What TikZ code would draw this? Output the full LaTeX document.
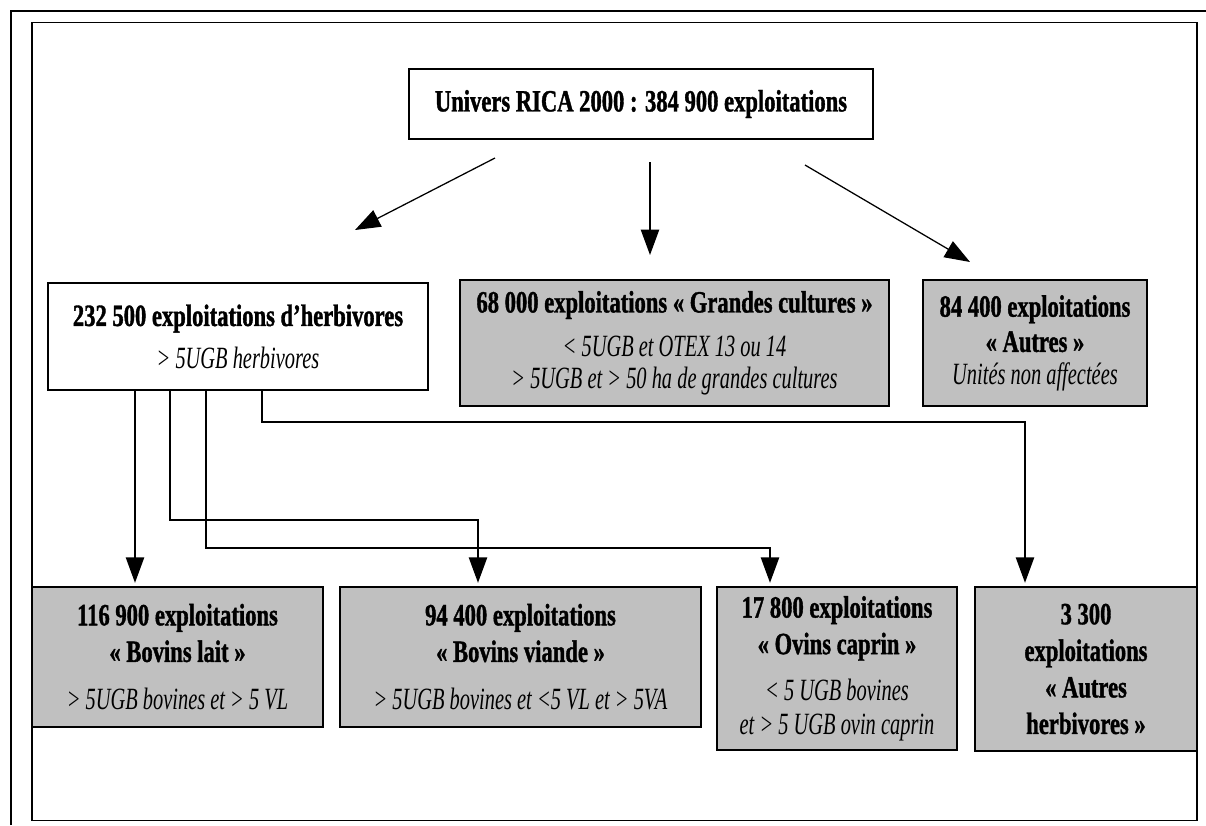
\documentclass[tikz,border=0pt]{standalone}
\usepackage{fontspec}
\setmainfont{Liberation Serif}[BoldFeatures={FakeStretch=0.73,FakeBold=1.2},ItalicFeatures={FakeStretch=0.66}]
\usepackage{tikz}
\usetikzlibrary{arrows.meta}

\definecolor{gris}{RGB}{192,192,192}
\tikzset{
  boite/.style={draw, line width=1pt, fill=white, inner sep=0pt, align=center},
  grise/.style={boite, fill=gris},
  fleche/.style={line width=0.9pt, -{Triangle[length=18pt,width=13pt]}},
}

\begin{document}
\begin{tikzpicture}[x=0.025cm,y=-0.025cm,font=\fontsize{22}{26}\selectfont]
  \useasboundingbox (0,0) rectangle (1206,825);
  % cadres
  \draw[line width=1.4pt] (11,825) -- (11,11) -- (1206,11);
  \draw[line width=1.2pt] (32,22.5) rectangle (1197,820.5);

  % niveau 1
  \node[boite, minimum width=11.6cm, minimum height=1.75cm] (univers) at (641,104)
    {\textbf{Univers RICA 2000 : 384 900 exploitations}};

  % niveau 2
  \node[boite, minimum width=9.5cm, minimum height=2.675cm] (herb) at (238,336.5)
    {\textbf{232 500 exploitations d’herbivores}\\[4pt]
     \textit{> 5UGB herbivores}};
  \node[grise, minimum width=10.725cm, minimum height=3.15cm] (gc) at (674.5,343)
    {\textbf{68 000 exploitations «~Grandes cultures~»}\\[5pt]
     \textit{< 5UGB et OTEX 13 ou 14}\\[-3pt]
     \textit{> 5UGB et > 50 ha de grandes cultures}};
  \node[grise, minimum width=5.6cm, minimum height=3.15cm] (autres) at (1035,343)
    {\textbf{84 400 exploitations}\\[-1pt]
     \textbf{«~Autres~»}\\[-3pt]
     \textit{Unités non affectées}};

  % niveau 3
  \node[grise, minimum width=7.275cm, minimum height=3.5cm] (lait) at (177.5,657)
    {\textbf{116 900 exploitations}\\
     \textbf{«~Bovins lait~»}\\[8pt]
     \textit{> 5UGB bovines et > 5 VL}};
  \node[grise, minimum width=9.025cm, minimum height=3.5cm] (viande) at (520.5,657)
    {\textbf{94 400 exploitations}\\
     \textbf{«~Bovins viande~»}\\[8pt]
     \textit{> 5UGB bovines et <5 VL et > 5VA}};
  \node[grise, minimum width=6cm, minimum height=4.075cm] (ovins) at (837,668.5)
    {\textbf{17 800 exploitations}\\
     \textbf{«~Ovins caprin~»}\\[7pt]
     \textit{< 5 UGB bovines}\\[-2pt]
     \textit{et > 5 UGB ovin caprin}};
  \node[grise, minimum width=5.55cm, minimum height=4.1cm] (autresherb) at (1086,669)
    {\textbf{3 300}\\
     \textbf{exploitations}\\
     \textbf{«~Autres}\\
     \textbf{herbivores~»}};

  % fleches du haut
  \coordinate (u1) at (495,158);
  \coordinate (h1) at (355,230);
  \coordinate (u2) at (650,162);
  \coordinate (g1) at (650,255);
  \coordinate (u3) at (805,165);
  \coordinate (a1) at (970,262);
  \draw[fleche] (u1) -- (h1);
  \draw[fleche] (u2) -- (g1);
  \draw[fleche] (u3) -- (a1);

  % repartition des herbivores
  \coordinate (pl) at (135,587);
  \coordinate (pv) at (478,587);
  \coordinate (po) at (770,587);
  \coordinate (pa) at (1025,587);
  \coordinate (k2) at (170,520);
  \coordinate (k3) at (206,548);
  \coordinate (k4) at (262,422);
  \draw[fleche, shorten >=3pt] (herb.south -| pl) -- (pl);
  \draw[fleche, shorten >=3pt] (herb.south -| k2) -- (k2) -| (pv);
  \draw[fleche, shorten >=3pt] (herb.south -| k3) -- (k3) -| (po);
  \draw[fleche, shorten >=3pt] (herb.south -| k4) -- (k4) -| (pa);
\end{tikzpicture}
\end{document}
